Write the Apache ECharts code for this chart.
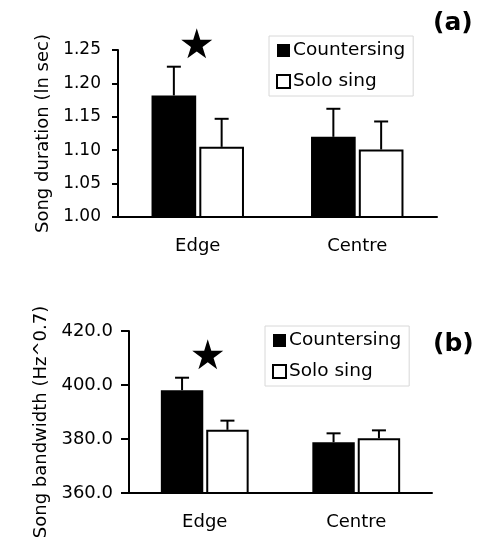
<!DOCTYPE html>
<html>
<head>
<meta charset="utf-8">
<script src="https://cdn.jsdelivr.net/npm/echarts@6/dist/echarts.min.js"></script>
<style>html,body{margin:0;padding:0;background:#fff;}#c{width:498px;height:550px;}</style>
</head>
<body>
<div id="c"></div>
<script>
// ---- data ----
var categories = ['Edge', 'Centre'];
var seriesNames = ['Countersing', 'Solo sing'];
// panel (a): song duration (ln sec)
var durCounter = [1.182, 1.120];
var durCounterUpper = [1.225, 1.162];
var durSolo = [1.105, 1.101];
var durSoloUpper = [1.147, 1.143];
var durTicks = { min: 1.00, max: 1.25, interval: 0.05 };
var durStar = [['Edge', 1.260]];
// panel (b): song bandwidth (Hz^0.7)
var bwCounter = [398.1, 378.8];
var bwCounterUpper = [402.7, 382.1];
var bwSolo = [383.4, 380.3];
var bwSoloUpper = [386.8, 383.2];
var bwTicks = { min: 360, max: 420, interval: 20 };
var bwStar = [['Edge', 411.4]];

// ---- style constants ----
var FONT = 'DejaVu Sans';
var BAR_FRAC = 0.28, BAR_GAP = 0.07;
var starPath = 'path://M50,0 L61,35 L98,35 L68,57 L79,91 L50,70 L21,91 L32,57 L2,35 L39,35 Z';

function errData(upper, mean) {
  return upper.map(function (u, i) { return [i, mean[i], u]; });
}
function errSeries(gridIdx, data, sign) {
  return {
    type: 'custom', xAxisIndex: gridIdx, yAxisIndex: gridIdx, z: 1,
    data: data, silent: true,
    renderItem: function (params, api) {
      var band = api.size([1, 0])[0];
      var off = sign * band * BAR_FRAC * (1 + BAR_GAP) / 2;
      var p0 = api.coord([api.value(0), api.value(1)]);
      var p1 = api.coord([api.value(0), api.value(2)]);
      var x = p0[0] + off;
      var st = { stroke: '#000', lineWidth: 2 };
      return { type: 'group', children: [
        { type: 'line', shape: { x1: x, y1: p0[1], x2: x, y2: p1[1] }, style: st },
        { type: 'line', shape: { x1: x - 7, y1: p1[1], x2: x + 7, y2: p1[1] }, style: st }
      ]};
    }
  };
}
function barSeries(gridIdx, name, data, fill) {
  return {
    type: 'bar', name: name, xAxisIndex: gridIdx, yAxisIndex: gridIdx, z: 2,
    data: data, barWidth: (BAR_FRAC * 100) + '%', barGap: (BAR_GAP * 100) + '%',
    itemStyle: { color: fill, borderColor: '#000', borderWidth: 2 },
    emphasis: { disabled: true }
  };
}
function starSeries(gridIdx, data, offX) {
  return {
    type: 'scatter', xAxisIndex: gridIdx, yAxisIndex: gridIdx, clip: false, z: 3,
    data: data, symbol: starPath, symbolSize: [31, 30], symbolOffset: [offX, 0],
    itemStyle: { color: '#000', opacity: 1 }, silent: true
  };
}
function xAxis(gridIdx) {
  return {
    type: 'category', gridIndex: gridIdx, data: categories,
    axisLine: { lineStyle: { color: '#000', width: 2 } },
    axisTick: { length: 6, lineStyle: { color: '#000', width: 2 } },
    axisLabel: { color: '#000', fontFamily: FONT, fontSize: 18, margin: 20 }
  };
}
function yAxis(gridIdx, t, dec, name, gap, pad, fs, tickLen, margin) {
  return {
    type: 'value', gridIndex: gridIdx, min: t.min, max: t.max, interval: t.interval,
    name: name, nameLocation: 'middle', nameGap: gap,
    nameTextStyle: { color: '#000', fontFamily: FONT, fontSize: 18, padding: pad },
    splitLine: { show: false },
    axisLine: { show: true, lineStyle: { color: '#000', width: 2 } },
    axisTick: { show: true, length: tickLen, lineStyle: { color: '#000', width: 2 } },
    axisLabel: { color: '#000', fontFamily: FONT, fontSize: fs, margin: margin,
      formatter: function (v) { return v.toFixed(dec); } }
  };
}
function legend(left, top) {
  return {
    left: left, top: top, orient: 'vertical',
    padding: [5, 8, 5, 7], itemGap: 12, itemWidth: 13, itemHeight: 13,
    borderColor: '#d8d8d8', borderWidth: 1, selectedMode: false,
    textStyle: { color: '#000', fontFamily: FONT, fontSize: 18.5, padding: [0, 0, 0, -2] },
    data: [
      { name: seriesNames[0], icon: 'rect', itemStyle: { color: '#000', borderColor: '#000', borderWidth: 0 } },
      { name: seriesNames[1], icon: 'rect', itemStyle: { color: '#fff', borderColor: '#000', borderWidth: 2 } }
    ]
  };
}

var chart = echarts.init(document.getElementById('c'), null, { renderer: 'canvas' });
chart.setOption({
  backgroundColor: '#fff',
  animation: false,
  grid: [
    { left: 118, top: 50, width: 319, height: 167 },
    { left: 129, top: 331, width: 303, height: 162 }
  ],
  xAxis: [xAxis(0), xAxis(1)],
  yAxis: [
    yAxis(0, durTicks, 2, 'Song duration (ln sec)', 64, [0, 0, 0, 0], 17, 6, 17),
    yAxis(1, bwTicks, 1, 'Song bandwidth (Hz^0.7)', 77, [0, 20, 0, 0], 18, 8, 16)
  ],
  legend: [legend(269, 36), legend(265, 326)],
  graphic: [
    { type: 'text', left: 433, top: 11, style: { text: '(a)', font: 'bold 25px "DejaVu Sans"', fill: '#000' } },
    { type: 'text', left: 433, top: 332, style: { text: '(b)', font: 'bold 25px "DejaVu Sans"', fill: '#000' } }
  ],
  series: [
    barSeries(0, seriesNames[0], durCounter, '#000'),
    barSeries(0, seriesNames[1], durSolo, '#fff'),
    errSeries(0, errData(durCounterUpper, durCounter), -1),
    errSeries(0, errData(durSoloUpper, durSolo), 1),
    starSeries(0, durStar, -1),
    barSeries(1, seriesNames[0], bwCounter, '#000'),
    barSeries(1, seriesNames[1], bwSolo, '#fff'),
    errSeries(1, errData(bwCounterUpper, bwCounter), -1),
    errSeries(1, errData(bwSoloUpper, bwSolo), 1),
    starSeries(1, bwStar, 3)
  ]
});
</script>
</body>
</html>
